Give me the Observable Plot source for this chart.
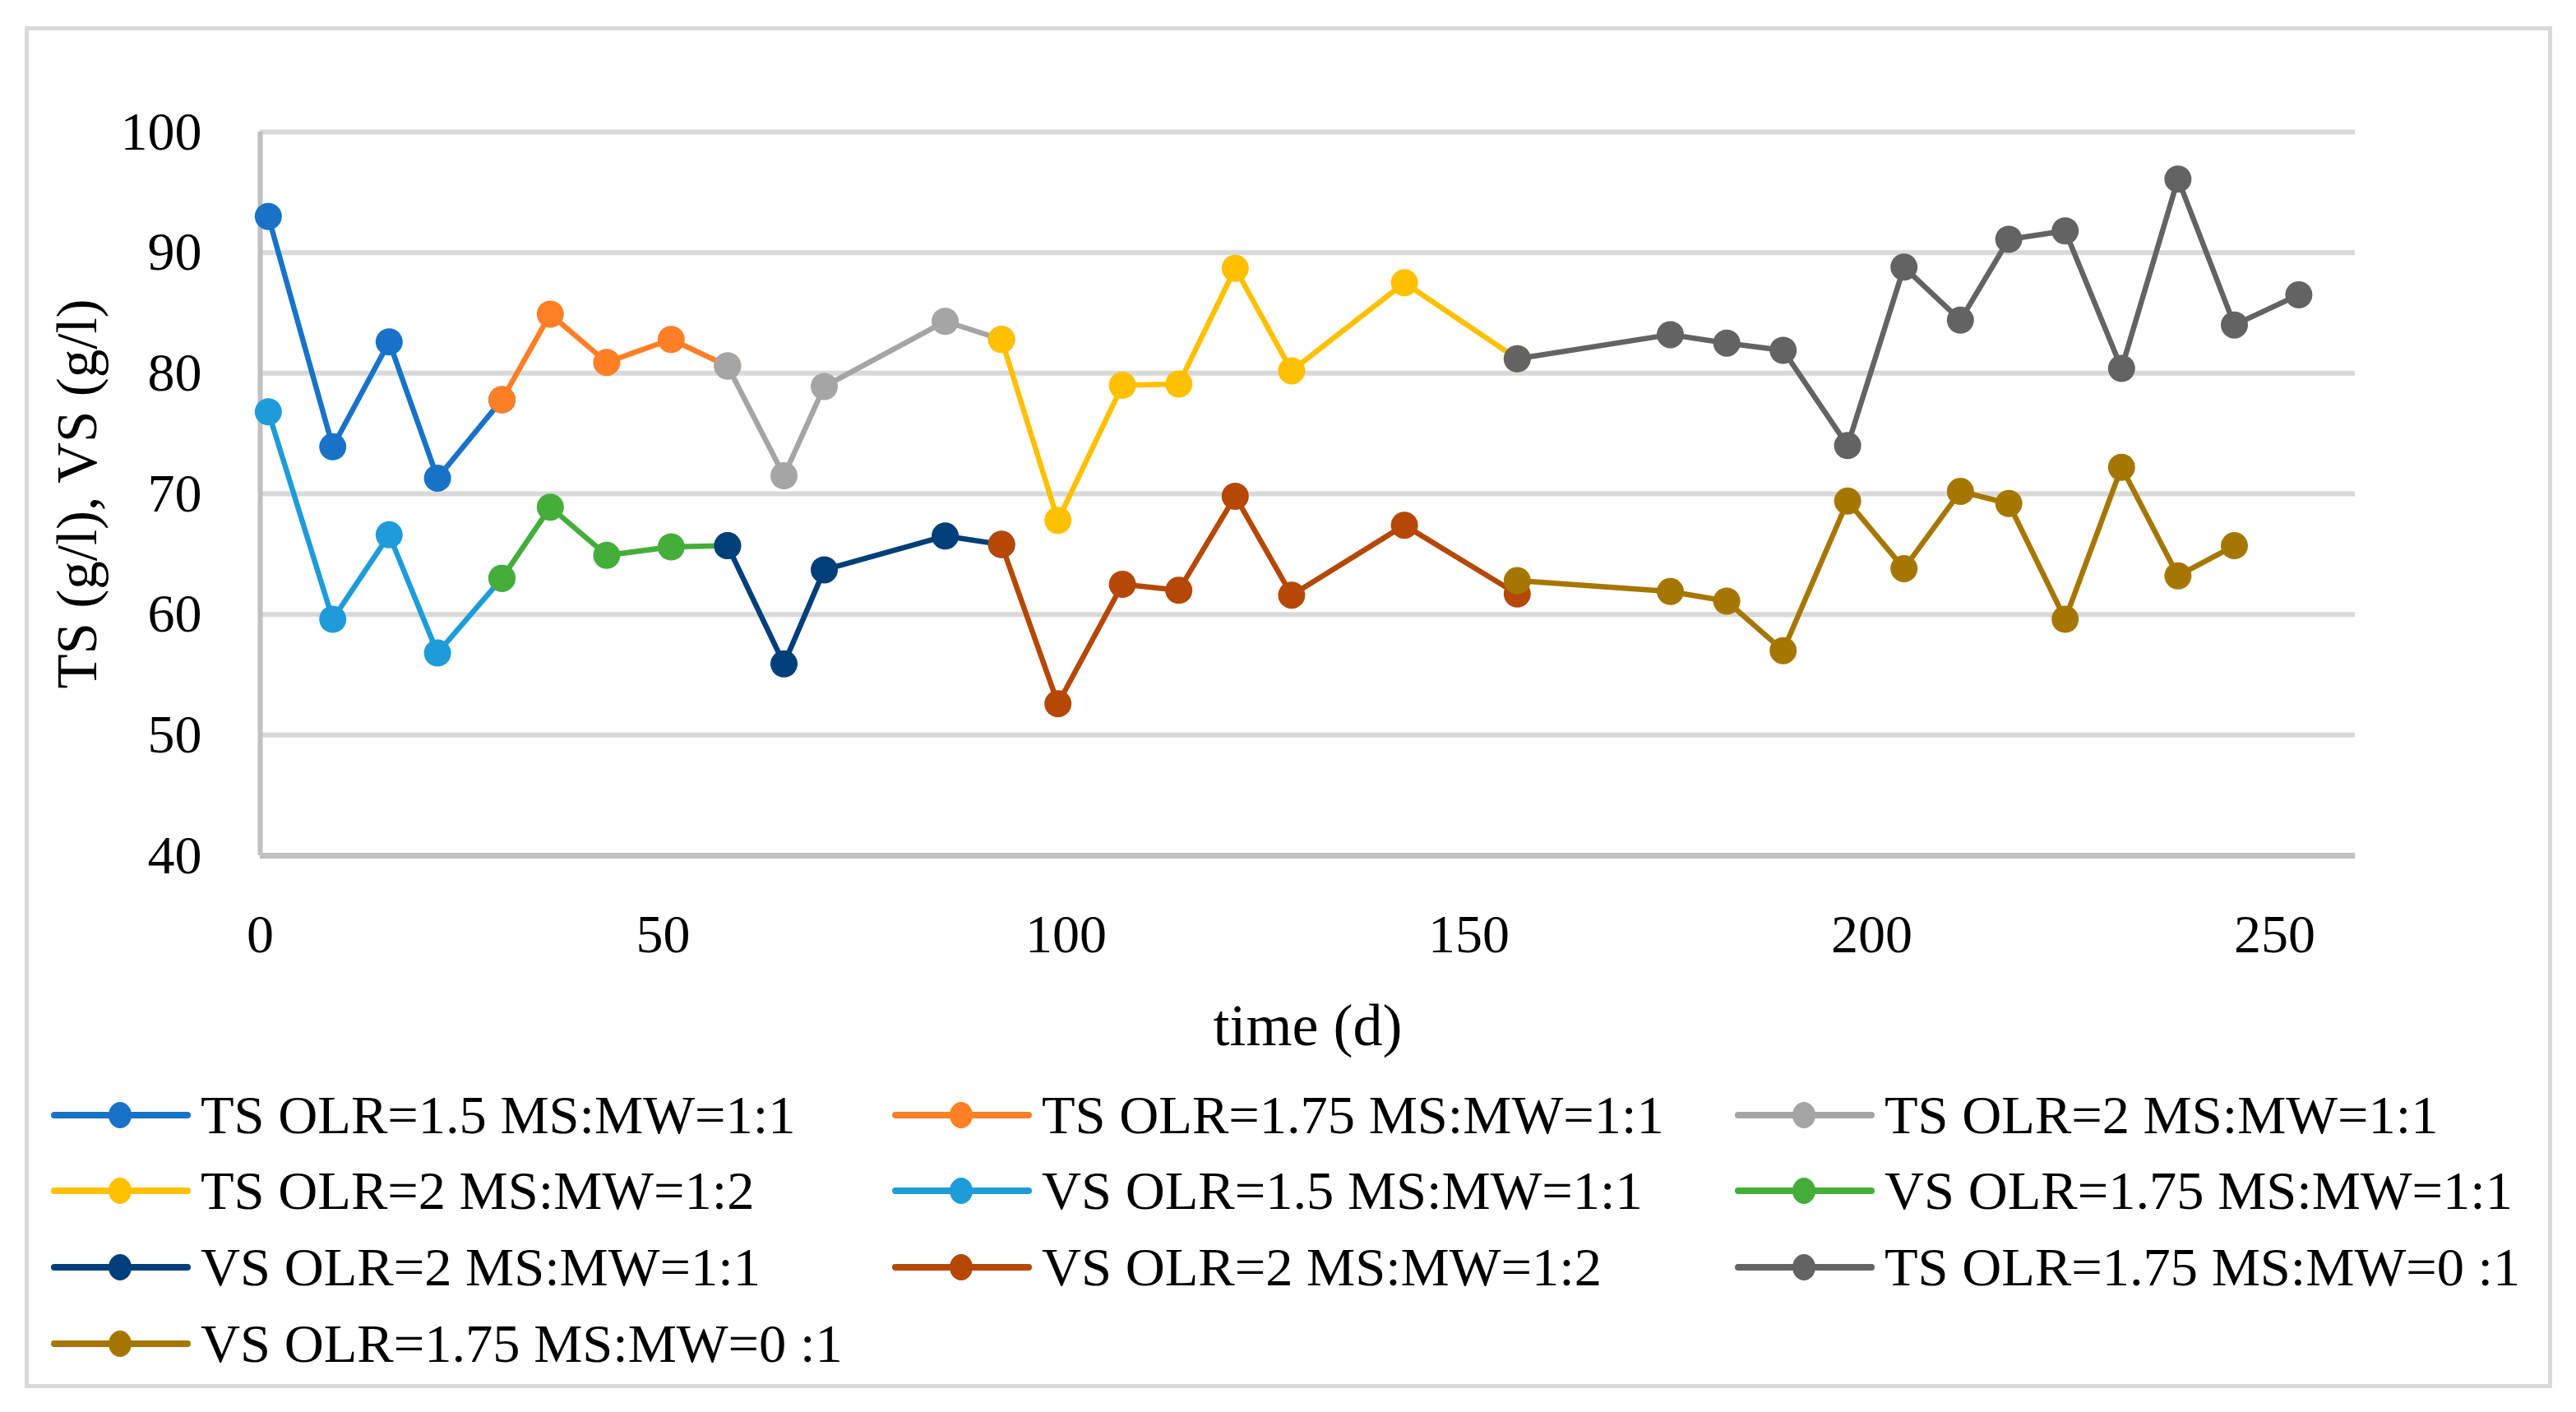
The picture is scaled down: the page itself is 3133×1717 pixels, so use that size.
<!DOCTYPE html>
<html>
<head>
<meta charset="utf-8">
<script src="https://cdn.jsdelivr.net/npm/d3@7"></script>
<script src="https://cdn.jsdelivr.net/npm/@observablehq/plot@0.6"></script>
<style>
  body { margin: 0; background: white; }
  #chart { position: relative; width: 3133px; height: 1717px; background: white; font-family: "Liberation Serif", serif; }
  #frame { position: absolute; left: 30px; top: 32px; width: 3064px; height: 1646px; border: 5px solid #d9d9d9; }
  #plot { position: absolute; left: 0; top: 0; }
  .item { position: absolute; height: 60px; display: flex; align-items: center; font-size: 66.5px; line-height: 1; color: #000; white-space: nowrap; }
  .item svg { margin-right: 12px; }
</style>
</head>
<body>
<div id="chart">
  <div id="frame"></div>
  <div id="plot"></div>
  <div id="legend"></div>
</div>
<script>
// series names (legend order) and their colours
const seriesNames = [
  "TS OLR=1.5 MS:MW=1:1", "TS OLR=1.75 MS:MW=1:1", "TS OLR=2 MS:MW=1:1",
  "TS OLR=2 MS:MW=1:2", "VS OLR=1.5 MS:MW=1:1", "VS OLR=1.75 MS:MW=1:1",
  "VS OLR=2 MS:MW=1:1", "VS OLR=2 MS:MW=1:2", "TS OLR=1.75 MS:MW=0 :1",
  "VS OLR=1.75 MS:MW=0 :1"
];
const seriesColors = [
  "#1873c8", "#fe7f25", "#a5a5a5",
  "#ffc000", "#1e9cd9", "#45ae3b",
  "#003f7a", "#b54805", "#636363",
  "#a67700"
];

// days and values
const tsDays15 = [1, 9, 16, 22, 30];
const ts15 = [93.0, 73.9, 82.6, 71.3, 77.8];
const tsDays175 = [30, 36, 43, 51, 58];
const ts175 = [77.8, 84.9, 80.9, 82.8, 80.6];
const tsDays2 = [58, 65, 70, 85, 92];
const ts2 = [80.6, 71.5, 78.9, 84.3, 82.8];
const tsDays2b = [92, 99, 107, 114, 121, 128, 142, 156];
const ts2b = [82.8, 67.8, 79.0, 79.1, 88.7, 80.2, 87.5, 81.2];
const vsDays15 = [1, 9, 16, 22, 30];
const vs15 = [76.8, 59.6, 66.6, 56.8, 63.0];
const vsDays175 = [30, 36, 43, 51, 58];
const vs175 = [63.0, 68.9, 64.9, 65.6, 65.7];
const vsDays2 = [58, 65, 70, 85, 92];
const vs2 = [65.7, 55.9, 63.7, 66.5, 65.8];
const vsDays2b = [92, 99, 107, 114, 121, 128, 142, 156];
const vs2b = [65.8, 52.6, 62.5, 62.0, 69.8, 61.6, 67.4, 61.7];
const tsDays0 = [156, 175, 182, 189, 197, 204, 211, 217, 224, 231, 238, 245, 253];
const ts0 = [81.2, 83.2, 82.5, 81.9, 74.0, 88.8, 84.4, 91.1, 91.8, 80.4, 96.1, 84.0, 86.5];
const vsDays0 = [156, 175, 182, 189, 197, 204, 211, 217, 224, 231, 238, 245];
const vs0 = [62.8, 61.9, 61.1, 57.0, 69.4, 63.8, 70.2, 69.2, 59.6, 72.2, 63.2, 65.7];

const xTicks = [0, 50, 100, 150, 200, 250];
const yTicks = [40, 50, 60, 70, 80, 90, 100];

const seriesDays = [tsDays15, tsDays175, tsDays2, tsDays2b, vsDays15, vsDays175, vsDays2, vsDays2b, tsDays0, vsDays0];
const seriesValues = [ts15, ts175, ts2, ts2b, vs15, vs175, vs2, vs2b, ts0, vs0];

const table = seriesNames.flatMap((name, k) =>
  seriesDays[k].map((d, i) => ({series: name, day: d, value: seriesValues[k][i]})));

// one line + dots per series, drawn in legend order so later series sit on top
const seriesMarks = seriesNames.flatMap(name => {
  const rows = table.filter(r => r.series === name);
  return [
    Plot.line(rows, {x: "day", y: "value", stroke: "series", strokeWidth: 6.5}),
    Plot.dot(rows, {x: "day", y: "value", fill: "series", r: 16.5})
  ];
});

const plot = Plot.plot({
  width: 3133,
  height: 1300,
  marginLeft: 316,
  marginRight: 269,
  marginTop: 160,
  marginBottom: 260,
  style: {fontFamily: "Liberation Serif", fontSize: "66px", color: "#000", background: "transparent", overflow: "visible"},
  x: {domain: [0, 260]},
  y: {domain: [40, 100]},
  color: {domain: seriesNames, range: seriesColors},
  marks: [
    Plot.gridY(yTicks.filter(t => t > 40), {stroke: "#d9d9d9", strokeOpacity: 1, strokeWidth: 6}),
    Plot.ruleX([0], {y1: 40, y2: 100, stroke: "#c0c0c0", strokeWidth: 6}),
    Plot.ruleY([40], {stroke: "#c0c0c0", strokeWidth: 7}),
    Plot.axisY({ticks: yTicks, tickSize: 0, tickPadding: 71, label: null}),
    Plot.axisX({ticks: xTicks, tickSize: 0, tickPadding: 71, label: null}),
    Plot.text(["time (d)"], {frameAnchor: "bottom", dy: 230, fontSize: 72}),
    Plot.text(["TS (g/l), VS (g/l)"], {frameAnchor: "left", textAnchor: "middle", dx: -222, rotate: -90, fontSize: 69}),
    ...seriesMarks
  ]
});
document.querySelector("#plot").append(plot);

// legend, three columns
const legendCols = [62, 1085, 2110];
const legendRows = [1356, 1448, 1541, 1634];
const legend = document.querySelector("#legend");
seriesNames.forEach((name, i) => {
  const item = document.createElement("div");
  item.className = "item";
  item.style.left = legendCols[i % 3] + "px";
  item.style.top = (legendRows[Math.floor(i / 3)] - 30) + "px";
  const c = seriesColors[i];
  item.innerHTML =
    `<svg width="170" height="40"><line x1="4" x2="166" y1="20" y2="20" stroke="${c}" stroke-width="8" stroke-linecap="round"/>` +
    `<ellipse cx="84" cy="20" rx="14" ry="16" fill="${c}"/></svg><span>${name}</span>`;
  legend.append(item);
});
</script>
</body>
</html>
